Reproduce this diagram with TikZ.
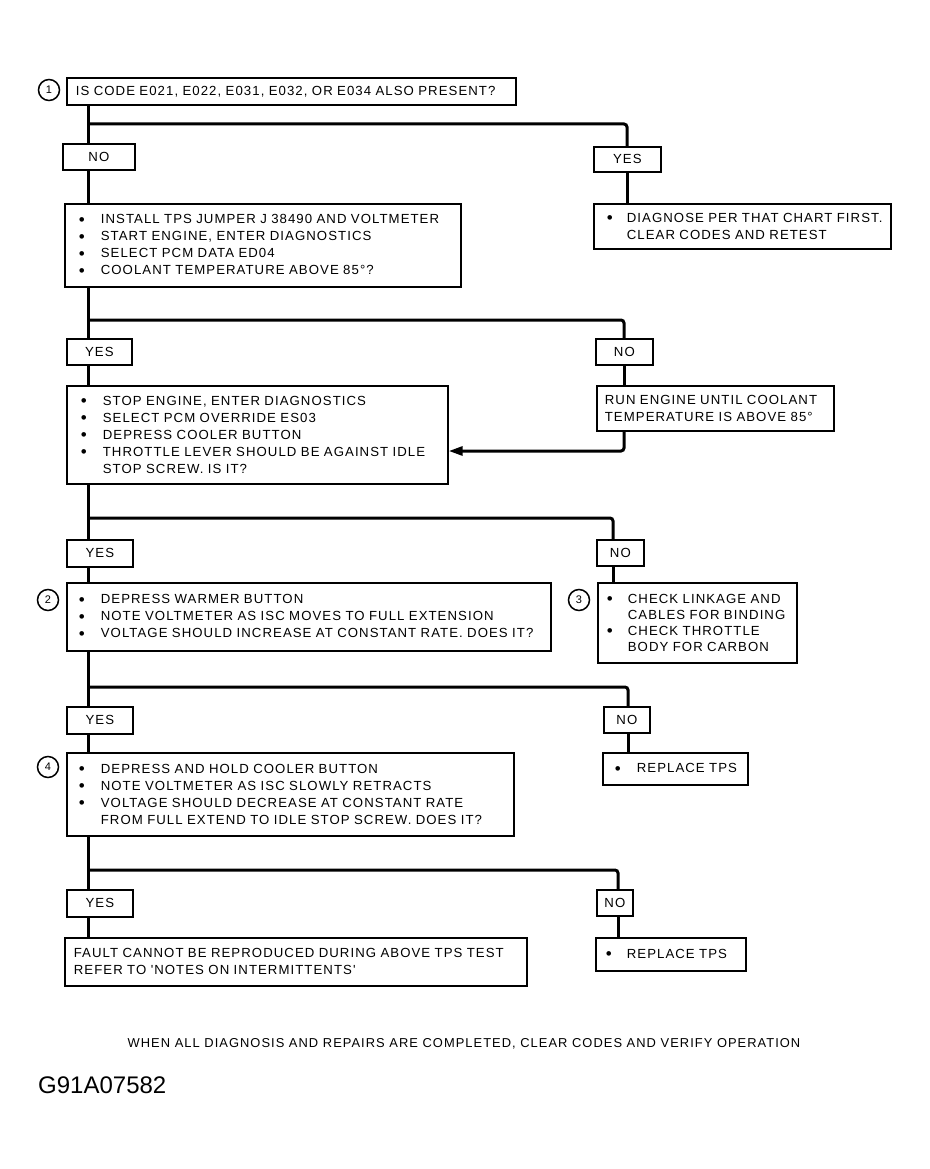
\documentclass[tikz,border=0pt]{standalone}
\usepackage{fontspec}
\usetikzlibrary{arrows.meta}
\newfontfamily\lblfont{Liberation Sans}[LetterSpace=8]
\newfontfamily\plainfont{Liberation Sans}
\newcommand{\bdot}{{\fontsize{17}{10}\selectfont\raisebox{-1.3pt}{•}}}
\newcommand{\bl}{\makebox[22pt][l]{\bdot}}
\newcommand{\ind}{\hspace*{22pt}}
\tikzset{
  txt/.style={font=\lblfont\fontsize{13.2}{17}\selectfont},
  box/.style={txt, draw, line width=1.7pt, fill=white, anchor=north west, inner sep=0pt, align=left},
  lbl/.style={txt, draw, line width=1.7pt, fill=white, anchor=north west, inner sep=0pt, align=center},
  circ/.style={circle, draw, line width=1.5pt, minimum size=21pt, inner sep=0pt, font=\plainfont\fontsize{11}{11}\selectfont},
  conn/.style={line width=3pt, rounded corners=3pt},
}
\begin{document}
\begin{tikzpicture}[x=1pt,y=-1pt]
\fill[white] (0,0) rectangle (929,1169);
\useasboundingbox (0,0) rectangle (929,1169);
% trunk and branch coordinates
\coordinate (L) at (88,0);
\coordinate (R1) at (627,0);
\coordinate (R2) at (624,0);
\coordinate (R3) at (613,0);
\coordinate (R4) at (628,0);
\coordinate (R5) at (618,0);
\coordinate (j1) at (88,124);
\coordinate (j2) at (88,320);
\coordinate (j3) at (88,518);
\coordinate (j4) at (88,687);
\coordinate (j5) at (88,870);
\coordinate (ay) at (0,451);

% boxes
\node[circ] (c1) at (49,90) {1};
\node[box, minimum width=449pt, minimum height=27pt, text width=431pt] (b1) at (66,77) {IS CODE E021, E022, E031, E032, OR E034 ALSO PRESENT?};
\node[lbl, minimum width=72pt, minimum height=26pt] (no1) at (62,143) {NO};
\node[lbl, minimum width=67pt, minimum height=25pt] (yes1) at (593,146) {YES};
\node[box, minimum width=396pt, minimum height=83pt, text width=368pt] (b2) at (64,203) {\bl INSTALL TPS JUMPER J 38490 AND VOLTMETER\\\bl START ENGINE, ENTER DIAGNOSTICS\\\bl SELECT PCM DATA ED04\\\bl COOLANT TEMPERATURE ABOVE 85°?};
\node[box, minimum width=297pt, minimum height=45pt, text width=271pt] (r1) at (593,203) {\mbox{\makebox[20pt][l]{\bdot}DIAGNOSE PER THAT CHART FIRST.}\\\mbox{\hspace*{20pt}CLEAR CODES AND RETEST}};
\node[lbl, minimum width=65pt, minimum height=26pt] (yes2) at (66,338) {YES};
\node[lbl, minimum width=57pt, minimum height=26pt] (no2) at (595,338) {NO};
\node[box, minimum width=237pt, minimum height=45pt, text width=221pt] (r2) at (596,385) {RUN ENGINE UNTIL COOLANT\\TEMPERATURE IS ABOVE 85°};
\node[box, minimum width=381pt, minimum height=98pt, text width=353pt] (b3) at (66,385) {\bl STOP ENGINE, ENTER DIAGNOSTICS\\\bl SELECT PCM OVERRIDE ES03\\\bl DEPRESS COOLER BUTTON\\\bl THROTTLE LEVER SHOULD BE AGAINST IDLE\\\ind STOP SCREW. IS IT?};
\node[lbl, minimum width=66pt, minimum height=27pt] (yes3) at (66,539) {YES};
\node[lbl, minimum width=47pt, minimum height=26pt] (no3) at (596,539) {NO};
\node[circ] (c2) at (48,600) {2};
\node[box, minimum width=484pt, minimum height=68pt, text width=460pt] (b4) at (66,582) {\bl DEPRESS WARMER BUTTON\\\bl NOTE VOLTMETER AS ISC MOVES TO FULL EXTENSION\\\bl VOLTAGE SHOULD INCREASE AT CONSTANT RATE. DOES IT?};
\node[circ] (c3) at (579,600) {3};
\node[box, minimum width=199pt, minimum height=80pt, text width=181pt, font=\lblfont\fontsize{13.2}{16}\selectfont] (r3) at (597,582) {\makebox[21pt][l]{\bdot}CHECK LINKAGE AND\\\hspace*{21pt}CABLES FOR BINDING\\\makebox[21pt][l]{\bdot}CHECK THROTTLE\\\hspace*{21pt}BODY FOR CARBON};
\node[lbl, minimum width=66pt, minimum height=27pt] (yes4) at (66,706) {YES};
\node[lbl, minimum width=46pt, minimum height=26pt] (no4) at (603,706) {NO};
\node[box, minimum width=145pt, minimum height=32pt, text width=121pt] (r4) at (602,752) {\mbox{\bl REPLACE TPS}};
\node[circ] (c4) at (48,767) {4};
\node[box, minimum width=447pt, minimum height=83pt, text width=423pt] (b5) at (66,752) {\bl DEPRESS AND HOLD COOLER BUTTON\\\bl NOTE VOLTMETER AS ISC SLOWLY RETRACTS\\\bl VOLTAGE SHOULD DECREASE AT CONSTANT RATE\\\ind FROM FULL EXTEND TO IDLE STOP SCREW. DOES IT?};
\node[lbl, minimum width=66pt, minimum height=27pt] (yes5) at (66,889) {YES};
\node[lbl, minimum width=36pt, minimum height=26pt] (no5) at (596,889) {NO};
\node[box, minimum width=462pt, minimum height=48pt, text width=444pt] (b6) at (64,937) {FAULT CANNOT BE REPRODUCED DURING ABOVE TPS TEST\\REFER TO 'NOTES ON INTERMITTENTS'};
\node[box, minimum width=150pt, minimum height=33pt, text width=130pt] (r5) at (595,937) {\mbox{\makebox[21pt][l]{\bdot}REPLACE TPS}};

\node[font=\lblfont\fontsize{12.9}{13}\selectfont] (note) at (464,1044) {WHEN ALL DIAGNOSIS AND REPAIRS ARE COMPLETED, CLEAR CODES AND VERIFY OPERATION};
\node[anchor=west, inner sep=0pt, font=\plainfont\fontsize{24}{24}\selectfont] (fig) at (38,1085) {G91A07582};

% connectors
\draw[conn] (b1.south -| L) -- (no1.north -| L);
\draw[conn] (j1) -| (yes1.north -| R1);
\draw[conn] (no1.south -| L) -- (b2.north -| L);
\draw[conn] (yes1.south -| R1) -- (r1.north -| R1);
\draw[conn] (b2.south -| L) -- (yes2.north -| L);
\draw[conn] (j2) -| (no2.north -| R2);
\draw[conn] (yes2.south -| L) -- (b3.north -| L);
\draw[conn] (no2.south -| R2) -- (r2.north -| R2);
\draw[conn, -{Triangle[length=14pt,width=9pt]}] (r2.south -| R2) |- (b3.east |- ay);
\draw[conn] (b3.south -| L) -- (yes3.north -| L);
\draw[conn] (j3) -| (no3.north -| R3);
\draw[conn] (yes3.south -| L) -- (b4.north -| L);
\draw[conn] (no3.south -| R3) -- (r3.north -| R3);
\draw[conn] (b4.south -| L) -- (yes4.north -| L);
\draw[conn] (j4) -| (no4.north -| R4);
\draw[conn] (yes4.south -| L) -- (b5.north -| L);
\draw[conn] (no4.south -| R4) -- (r4.north -| R4);
\draw[conn] (b5.south -| L) -- (yes5.north -| L);
\draw[conn] (j5) -| (no5.north -| R5);
\draw[conn] (yes5.south -| L) -- (b6.north -| L);
\draw[conn] (no5.south -| R5) -- (r5.north -| R5);
\end{tikzpicture}
\end{document}
